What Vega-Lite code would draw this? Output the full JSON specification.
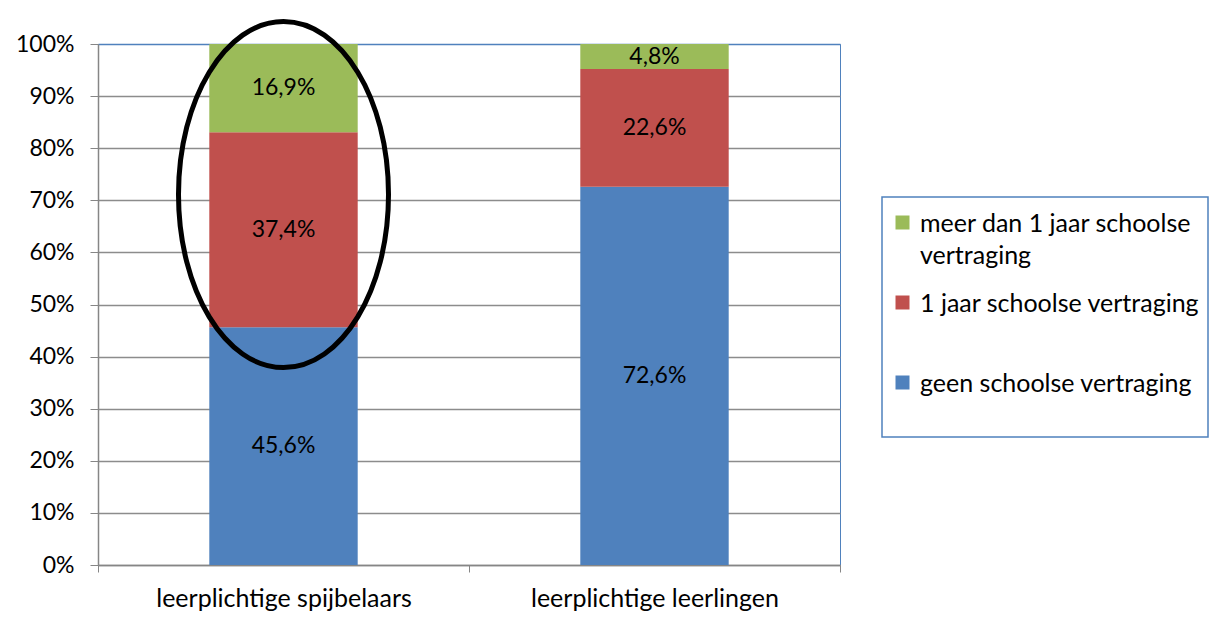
{
  "$schema": "https://vega.github.io/schema/vega-lite/v6.json",
  "autosize": {"type": "none"},
  "width": 742,
  "height": 521,
  "padding": {"left": 98, "top": 44, "right": 380, "bottom": 55},
  "background": "white",
  "config": {
    "locale": {"number": {"decimal": ",", "thousands": ".", "grouping": [3], "currency": ["€", ""]}},
    "view": {"stroke": "#4F81BD", "strokeWidth": 1},
    "font": "Lato"
  },
  "datasets": {
    "vertraging": [
      {"groep": "leerplichtige spijbelaars", "serie": "geen schoolse vertraging", "aandeel": 0.456, "volgorde": 1},
      {"groep": "leerplichtige spijbelaars", "serie": "1 jaar schoolse vertraging", "aandeel": 0.374, "volgorde": 2},
      {"groep": "leerplichtige spijbelaars", "serie": "meer dan 1 jaar schoolse vertraging", "aandeel": 0.169, "volgorde": 3},
      {"groep": "leerplichtige leerlingen", "serie": "geen schoolse vertraging", "aandeel": 0.726, "volgorde": 1},
      {"groep": "leerplichtige leerlingen", "serie": "1 jaar schoolse vertraging", "aandeel": 0.226, "volgorde": 2},
      {"groep": "leerplichtige leerlingen", "serie": "meer dan 1 jaar schoolse vertraging", "aandeel": 0.048, "volgorde": 3}
    ],
    "markering": [
      {"groep": "leerplichtige spijbelaars", "midden": 0.711}
    ]
  },
  "encoding": {
    "x": {
      "field": "groep", "type": "nominal", "sort": null,
      "scale": {"paddingInner": 0, "paddingOuter": 0},
      "axis": {
        "title": null, "labelAngle": 0, "labelFont": "Lato", "labelFontSize": 25, "labelColor": "#000",
        "labelPadding": 14, "labelLimit": 500, "tickBand": "extent", "tickSize": 7, "tickColor": "#868686",
        "domainColor": "#868686", "domainWidth": 1.5, "grid": false
      }
    }
  },
  "layer": [
    {
      "data": {"name": "vertraging"},
      "mark": {"type": "bar", "width": {"band": 0.4}},
      "encoding": {
        "y": {
          "field": "aandeel", "type": "quantitative", "stack": "normalize",
          "scale": {"domain": [0, 1], "nice": false},
          "axis": {
            "title": null, "values": [0, 0.1, 0.2, 0.3, 0.4, 0.5, 0.6, 0.7, 0.8, 0.9, 1], "format": ".0%",
            "labelFont": "Lato", "labelFontSize": 23, "labelColor": "#000", "labelPadding": 16,
            "tickSize": 8, "tickColor": "#868686", "domainColor": "#868686", "domainWidth": 1.5,
            "grid": true, "gridWidth": 1.5,
            "gridColor": {"condition": {"test": "datum.value === 1", "value": "#4F81BD"}, "value": "#8C8C8C"}
          }
        },
        "color": {
          "field": "serie", "type": "nominal",
          "scale": {
            "domain": ["geen schoolse vertraging", "1 jaar schoolse vertraging", "meer dan 1 jaar schoolse vertraging"],
            "range": ["#4F81BD", "#C0504D", "#9BBB59"]
          },
          "legend": {
            "title": " ", "titleFontSize": 5, "titlePadding": 0,
            "orient": "none", "legendX": 784, "legendY": 153,
            "values": ["meer dan 1 jaar schoolse vertraging", "1 jaar schoolse vertraging", "geen schoolse vertraging"],
            "symbolType": "square", "symbolSize": 196, "symbolStrokeWidth": 0,
            "labelFont": "Lato", "labelFontSize": 25, "labelColor": "#000", "labelOffset": 5, "labelLimit": 500,
            "labelBaseline": "top",
            "labelExpr": "datum.label == 'meer dan 1 jaar schoolse vertraging' ? ['meer dan 1 jaar schoolse', 'vertraging'] : [datum.label, '']",
            "rowPadding": 21, "padding": 8, "strokeColor": "#4F81BD",
            "encode": {
              "labels": {"update": {"lineHeight": {"value": 32}, "dy": {"value": -11}}},
              "legend": {"update": {"strokeWidth": {"value": 1.5}}}
            }
          }
        },
        "order": {"field": "volgorde", "type": "quantitative"}
      }
    },
    {
      "data": {"name": "vertraging"},
      "mark": {"type": "text", "font": "Lato", "fontSize": 23, "color": "#000"},
      "encoding": {
        "y": {"field": "aandeel", "type": "quantitative", "stack": "normalize", "bandPosition": 0.5},
        "detail": {"field": "serie", "type": "nominal"},
        "order": {"field": "volgorde", "type": "quantitative"},
        "text": {"field": "aandeel", "type": "quantitative", "format": ".1%"}
      }
    },
    {
      "data": {"name": "markering"},
      "mark": {
        "type": "point", "filled": false, "stroke": "#000", "strokeWidth": 5, "opacity": 1, "clip": false,
        "size": 119716,
        "shape": "M0,-1C0.3352,-1,0.607,-0.5523,0.607,0C0.607,0.5523,0.3352,1,0,1C-0.3352,1,-0.607,0.5523,-0.607,0C-0.607,-0.5523,-0.3352,-1,0,-1Z"
      },
      "encoding": {
        "y": {"field": "midden", "type": "quantitative"}
      }
    }
  ]
}
